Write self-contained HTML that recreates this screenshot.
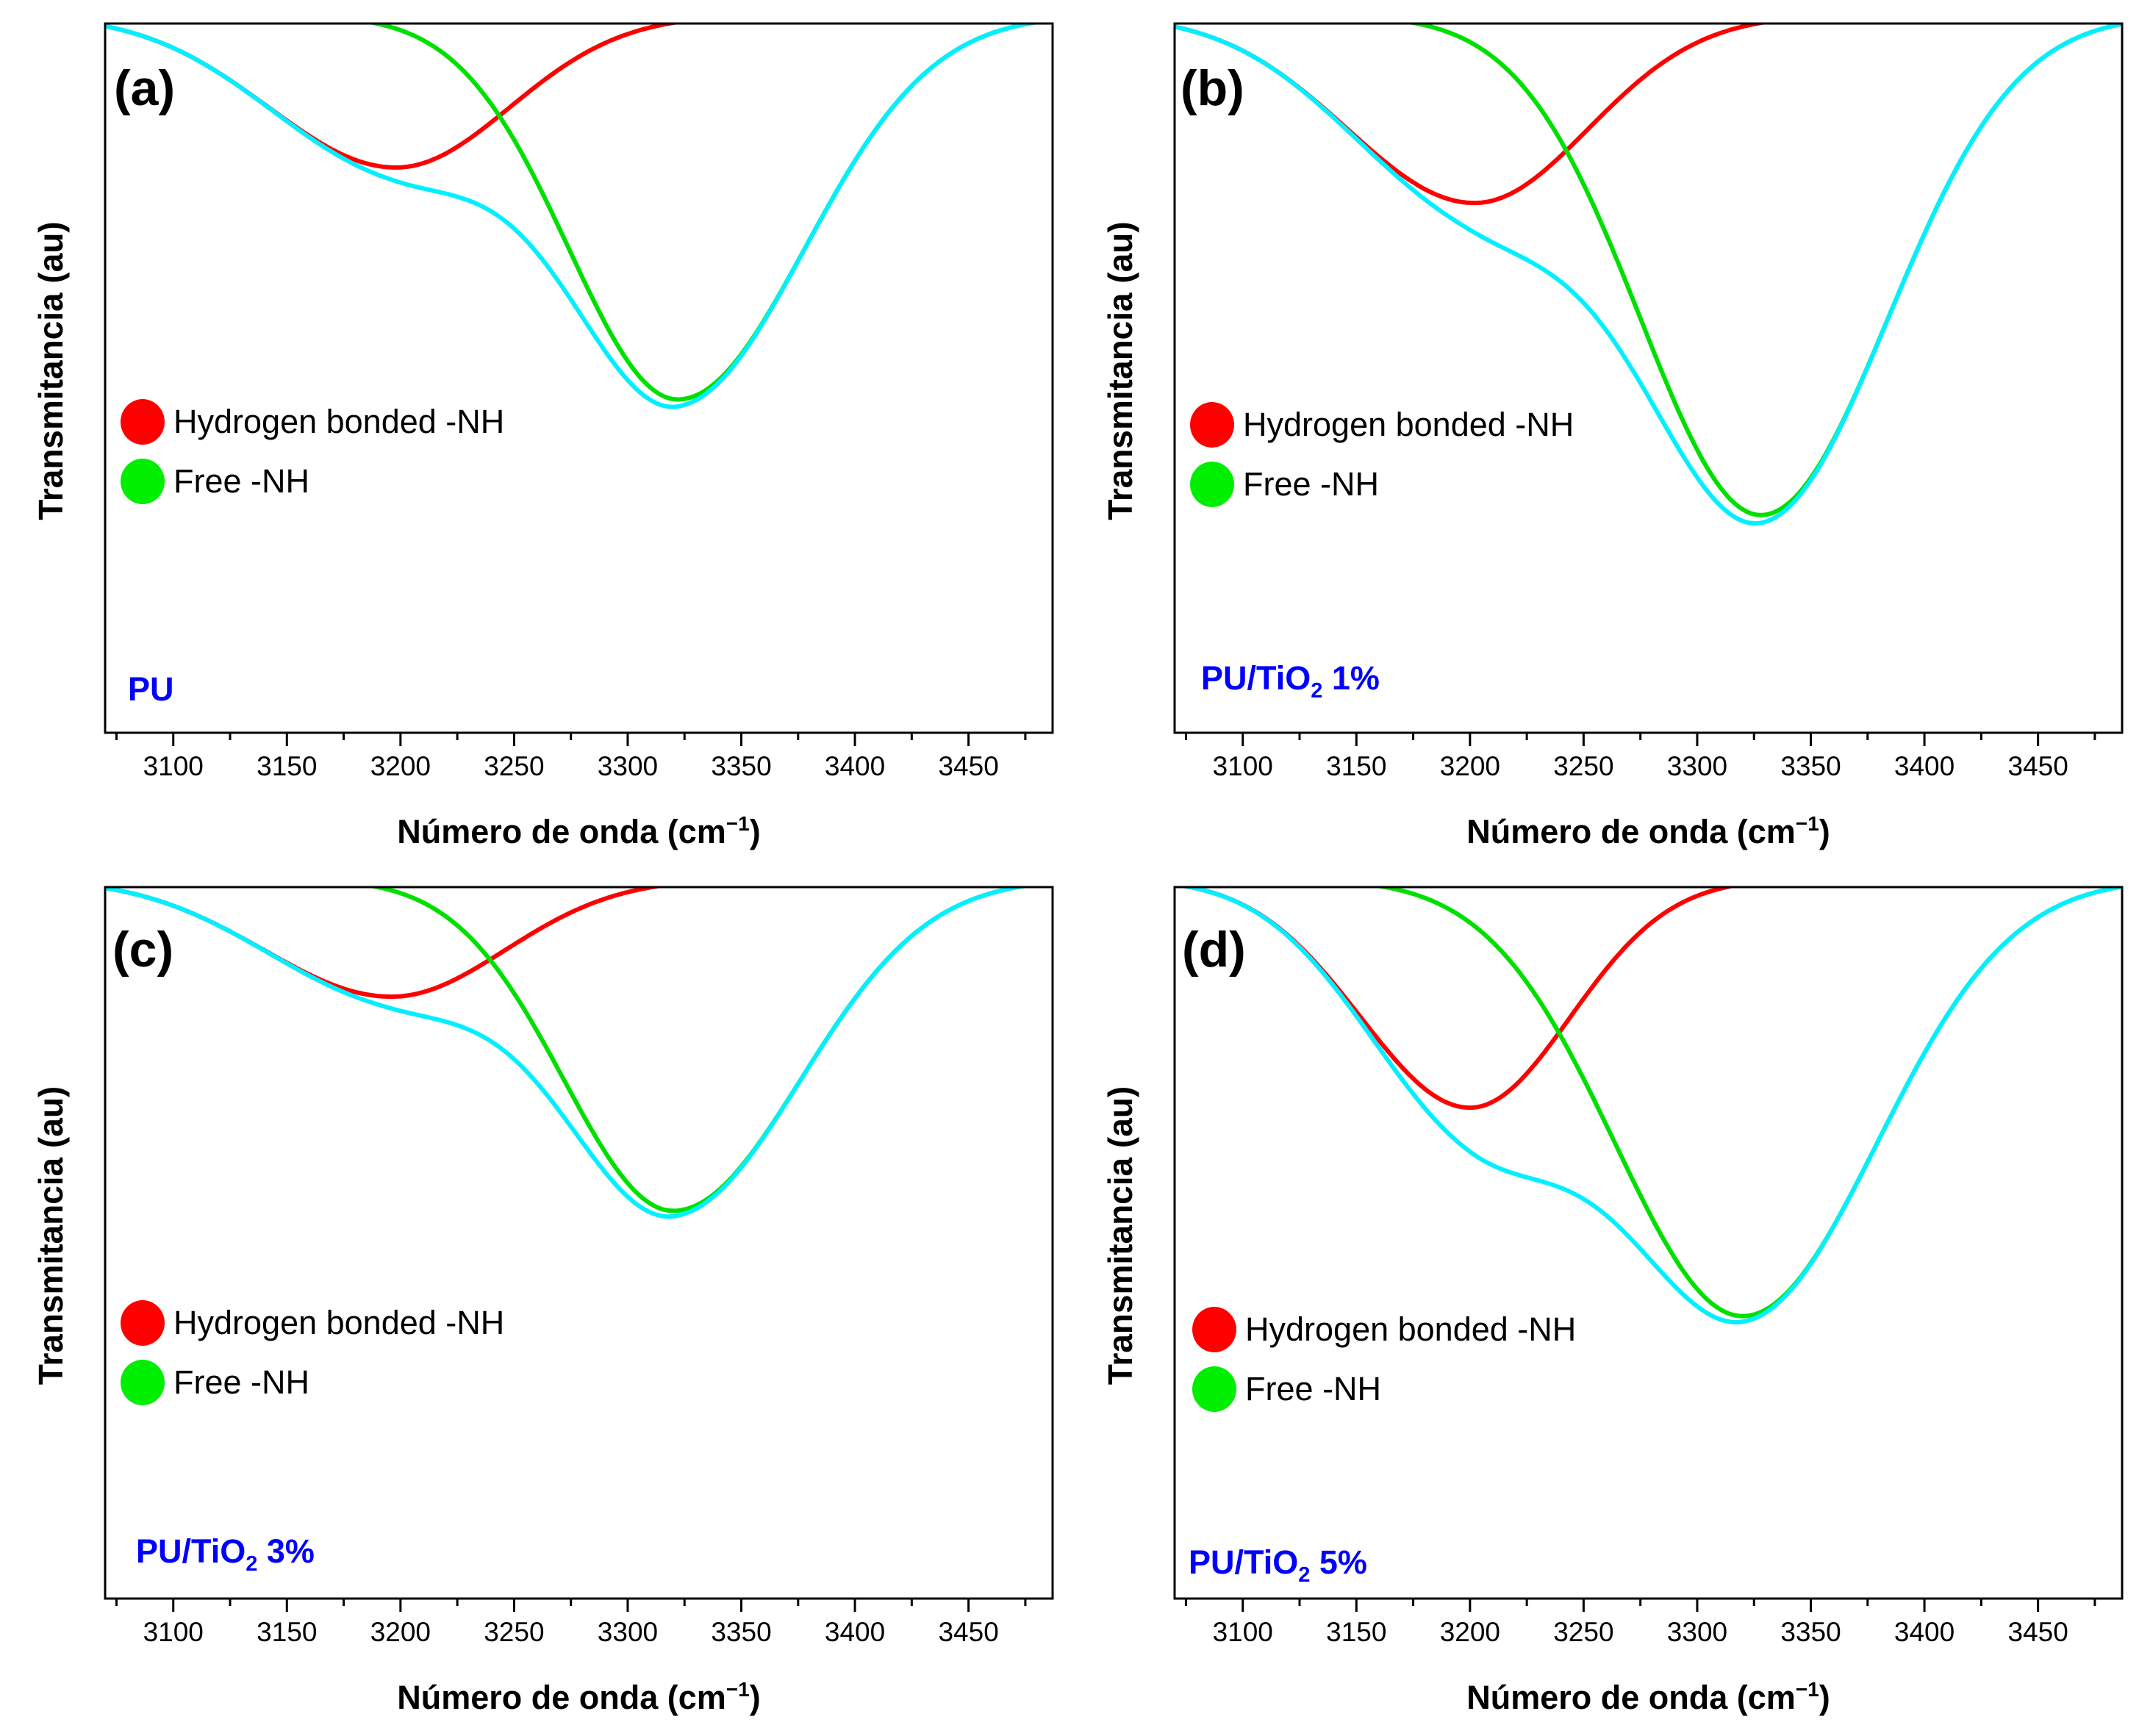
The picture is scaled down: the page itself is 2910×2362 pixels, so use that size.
<!DOCTYPE html>
<html><head><meta charset="utf-8">
<style>
html,body{margin:0;padding:0;background:#fff;}
svg{display:block;font-family:"Liberation Sans",Arial,sans-serif;}
</style></head>
<body>
<svg id="fig" width="2910" height="2362" viewBox="0 0 2910 2362" xmlns="http://www.w3.org/2000/svg"></svg>
<script>
// Peak parameters (depth as fraction of plot height)
const panelLetters = ["(a)", "(b)", "(c)", "(d)"];
const sampleNames = ["PU", "PU/TiO2 1%", "PU/TiO2 3%", "PU/TiO2 5%"];
const redCenters = [3198, 3202, 3196, 3200];
const redDepths = [0.215, 0.265, 0.166, 0.322];
const redSigmaL = [56, 56, 56, 48];
const redSigmaR = [50, 50, 50, 44];
const greenCenters = [3322, 3328, 3320, 3320];
const greenDepths = [0.542, 0.705, 0.467, 0.615];
const greenSigmaL = [48, 53, 48, 56];
const greenSigmaR = [56, 56, 56, 59];
const yOffset = 0.012;
const xTicks = [3100, 3150, 3200, 3250, 3300, 3350, 3400, 3450];
const xMinorTicks = [3075, 3125, 3175, 3225, 3275, 3325, 3375, 3425, 3475];
const xMin = 3070, xMax = 3487;

const NS = "http://www.w3.org/2000/svg";
const svg = document.getElementById("fig");
function mk(tag, attrs, parent) {
  const e = document.createElementNS(NS, tag);
  for (const k in attrs) e.setAttribute(k, attrs[k]);
  (parent || svg).appendChild(e);
  return e;
}
const boxes = [
  {l:143, t:32, r:1432, b:997},
  {l:1598, t:32, r:2887, b:997},
  {l:143, t:1207, r:1432, b:2175},
  {l:1598, t:1207, r:2887, b:2175}
];
const legendPos = [[194,574],[1649,578],[194,1800],[1652,1809]];
const samplePos = [[177,938],[1634,923],[185,2111],[1617,2126]];
const letterPos = [[155,119],[1606,119],[153,1291],[1608,1291]];

function gaussAsym(x, c, d, sl, sr) { const s = x < c ? sl : sr; return d * Math.exp(-(x - c) * (x - c) / (2 * s * s)); }

boxes.forEach((bx, i) => {
  const g = mk("g", {});
  
  
  const X = v => bx.l + (v - xMin) / (xMax - xMin) * (bx.r - bx.l);
  const Y = d => bx.t + (d - yOffset) * (bx.b - bx.t);
  const clipId = "clip" + i;
  const cp = mk("clipPath", {id: clipId}, g);
  mk("rect", {x: bx.l, y: bx.t, width: bx.r - bx.l, height: bx.b - bx.t}, cp);

  const red = x => gaussAsym(x, redCenters[i], redDepths[i], redSigmaL[i], redSigmaR[i]);
  const green = x => gaussAsym(x, greenCenters[i], greenDepths[i], greenSigmaL[i], greenSigmaR[i]);
  const series = [
    {name: "hydrogen-bonded-curve", color: "#ff0000", f: red},
    {name: "free-nh-curve", color: "#00e000", f: green},
    {name: "sum-fit-curve", color: "#00f0ff", f: x => red(x) + green(x)}
  ];
  series.forEach(s => {
    let d = "";
    for (let x = xMin; x <= xMax; x += 1) d += (d ? "L" : "M") + X(x).toFixed(1) + "," + Y(s.f(x)).toFixed(1);
    const p = mk("path", {d: d, fill: "none", stroke: s.color, "stroke-width": 6, "clip-path": "url(#" + clipId + ")"}, g);
    
    
  });

  const frame = mk("rect", {x: bx.l, y: bx.t, width: bx.r - bx.l, height: bx.b - bx.t, fill: "none", stroke: "#000", "stroke-width": 3}, g);
  
  

  xTicks.forEach(v => {
    const t = mk("line", {x1: X(v), x2: X(v), y1: bx.b, y2: bx.b + 18, stroke: "#000", "stroke-width": 3}, g);
    
    
    const lb = mk("text", {x: X(v), y: bx.b + 58, "text-anchor": "middle", "font-size": 37}, g);
    
    
    lb.textContent = v;
  });
  xMinorTicks.forEach(v => {
    const t = mk("line", {x1: X(v), x2: X(v), y1: bx.b, y2: bx.b + 10, stroke: "#000", "stroke-width": 3}, g);
    
    
  });

  const xt = mk("text", {x: (bx.l + bx.r) / 2, y: bx.b + 150, "text-anchor": "middle", "font-size": 45, "font-weight": "bold"}, g);
  
  
  xt.innerHTML = 'Número de onda (cm<tspan dy="-17" font-size="28">−1</tspan><tspan dy="17">)</tspan>';

  const yc = (bx.t + bx.b) / 2 - 10;
  const yx = bx.l - 58;
  const yt = mk("text", {x: yx, y: yc, "text-anchor": "middle", "font-size": 46, "font-weight": "bold", transform: "rotate(-90 " + yx + " " + yc + ")"}, g);
  
  
  yt.textContent = "Transmitancia (au)";

  const lt = mk("text", {x: letterPos[i][0], y: letterPos[i][1] + 24, "font-size": 68, "font-weight": "bold"}, g);
  
  
  lt.textContent = panelLetters[i];

  const [lx, ly] = legendPos[i];
  const legendItems = [["#ff0000", "Hydrogen bonded -NH"], ["#00ee00", "Free -NH"]];
  legendItems.forEach((it, k) => {
    const lg = mk("g", {}, g);
    
    
    const c = mk("ellipse", {cx: lx, cy: ly + k * 81, rx: 30, ry: 31, fill: it[0]}, lg);
    
    
    const tx = mk("text", {x: lx + 42, y: ly + k * 81 + 15, "font-size": 45}, lg);
    
    
    tx.textContent = it[1];
  });

  const [sx, sy] = samplePos[i];
  const st = mk("text", {x: sx - (i === 0 ? 3 : 0), y: sy + 15, "font-size": 45, "font-weight": "bold", fill: "#0000ff"}, g);
  
  
  if (i === 0) st.textContent = "PU";
  else {
    const pct = sampleNames[i].split(" ")[1];
    st.innerHTML = 'PU/TiO<tspan dy="11" font-size="29">2</tspan><tspan dy="-11"> ' + pct + '</tspan>';
  }
});
</script>
</body></html>
